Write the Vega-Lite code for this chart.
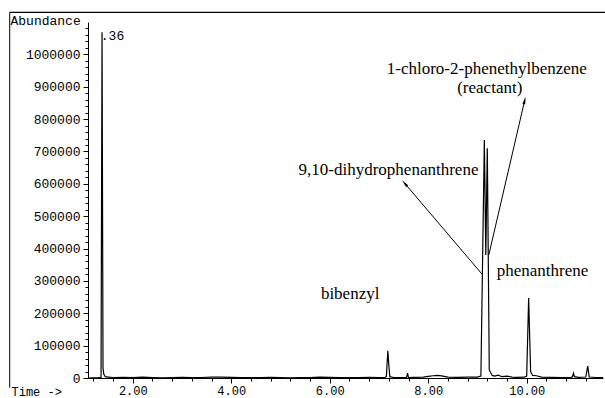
{
  "$schema": "https://vega.github.io/schema/vega-lite/v6.json",
  "width": 515,
  "height": 356,
  "autosize": {"type": "none"},
  "padding": {"left": 88, "top": 22, "right": 2, "bottom": 20},
  "background": "white",
  "config": {"view": {"stroke": null}, "font": "Liberation Mono"},
  "datasets": {
    "trace": [
      {"time": 1.09, "abundance": 0},
      {"time": 1.2, "abundance": 500},
      {"time": 1.3, "abundance": 1000},
      {"time": 1.355, "abundance": 2000},
      {"time": 1.375, "abundance": 1068000},
      {"time": 1.395, "abundance": 30000},
      {"time": 1.41, "abundance": 12000},
      {"time": 1.44, "abundance": 4000},
      {"time": 1.5, "abundance": 3000},
      {"time": 1.6, "abundance": 1500},
      {"time": 1.8, "abundance": 2000},
      {"time": 2.0, "abundance": 1000},
      {"time": 2.2, "abundance": 2500},
      {"time": 2.4, "abundance": 1500},
      {"time": 2.6, "abundance": 800},
      {"time": 2.8, "abundance": 1200},
      {"time": 3.0, "abundance": 2000},
      {"time": 3.2, "abundance": 1000},
      {"time": 3.4, "abundance": 1500},
      {"time": 3.6, "abundance": 2500},
      {"time": 3.8, "abundance": 3000},
      {"time": 4.0, "abundance": 2000},
      {"time": 4.2, "abundance": 1500},
      {"time": 4.4, "abundance": 1000},
      {"time": 4.6, "abundance": 1200},
      {"time": 4.8, "abundance": 2000},
      {"time": 5.0, "abundance": 1500},
      {"time": 5.2, "abundance": 800},
      {"time": 5.4, "abundance": 1000},
      {"time": 5.6, "abundance": 1500},
      {"time": 5.8, "abundance": 2500},
      {"time": 6.0, "abundance": 2000},
      {"time": 6.2, "abundance": 1200},
      {"time": 6.4, "abundance": 1000},
      {"time": 6.6, "abundance": 1500},
      {"time": 6.8, "abundance": 1800},
      {"time": 7.0, "abundance": 1200},
      {"time": 7.12, "abundance": 1000},
      {"time": 7.15, "abundance": 5000},
      {"time": 7.18, "abundance": 84000},
      {"time": 7.2, "abundance": 40000},
      {"time": 7.22, "abundance": 4000},
      {"time": 7.3, "abundance": 1500},
      {"time": 7.5, "abundance": 1000},
      {"time": 7.56, "abundance": 1500},
      {"time": 7.58, "abundance": 15000},
      {"time": 7.6, "abundance": 1500},
      {"time": 7.7, "abundance": 2000},
      {"time": 7.9, "abundance": 3000},
      {"time": 8.0, "abundance": 5000},
      {"time": 8.1, "abundance": 7000},
      {"time": 8.2, "abundance": 8000},
      {"time": 8.3, "abundance": 6000},
      {"time": 8.4, "abundance": 3000},
      {"time": 8.6, "abundance": 2000},
      {"time": 8.8, "abundance": 2500},
      {"time": 9.0, "abundance": 3000},
      {"time": 9.07, "abundance": 6000},
      {"time": 9.14, "abundance": 735000},
      {"time": 9.17, "abundance": 380000},
      {"time": 9.2, "abundance": 710000},
      {"time": 9.24, "abundance": 25000},
      {"time": 9.3, "abundance": 8000},
      {"time": 9.35, "abundance": 6000},
      {"time": 9.42, "abundance": 9000},
      {"time": 9.5, "abundance": 4000},
      {"time": 9.6, "abundance": 6000},
      {"time": 9.7, "abundance": 3000},
      {"time": 9.8, "abundance": 2000},
      {"time": 9.95, "abundance": 2500},
      {"time": 10.0, "abundance": 6000},
      {"time": 10.04, "abundance": 247000},
      {"time": 10.08, "abundance": 20000},
      {"time": 10.12, "abundance": 8000},
      {"time": 10.2, "abundance": 7000},
      {"time": 10.3, "abundance": 3000},
      {"time": 10.5, "abundance": 2000},
      {"time": 10.7, "abundance": 1500},
      {"time": 10.9, "abundance": 2000},
      {"time": 10.93, "abundance": 4000},
      {"time": 10.95, "abundance": 15000},
      {"time": 10.97, "abundance": 4000},
      {"time": 11.05, "abundance": 2000},
      {"time": 11.2, "abundance": 3000},
      {"time": 11.24, "abundance": 37000},
      {"time": 11.27, "abundance": 3000},
      {"time": 11.4, "abundance": 1500},
      {"time": 11.55, "abundance": 1000}
    ],
    "labels": [
      {"label": ".36", "time": 1.35, "abundance": 1043000, "pos": "left", "font": "mono"},
      {"label": "1-chloro-2-phenethylbenzene", "time": 9.19, "abundance": 938000, "pos": "center", "font": "serif"},
      {"label": "(reactant)", "time": 9.25, "abundance": 880000, "pos": "center", "font": "serif"},
      {"label": "9,10-dihydrophenanthrene", "time": 9.02, "abundance": 626000, "pos": "right", "font": "serif"},
      {"label": "phenanthrene", "time": 9.39, "abundance": 315000, "pos": "left", "font": "serif"},
      {"label": "bibenzyl", "time": 5.82, "abundance": 244000, "pos": "left", "font": "serif"}
    ],
    "arrows": [
      {"arrow": "dihydro", "t1": 9.11, "a1": 318000, "t2": 7.52, "a2": 602000},
      {"arrow": "reactant", "t1": 9.23, "a1": 380000, "t2": 9.96, "a2": 858000}
    ]
  },
  "resolve": {"axis": {"x": "independent", "y": "independent"}},
  "layer": [
    {
      "data": {"name": "trace"},
      "mark": {"type": "line", "color": "black", "strokeWidth": 1.2, "interpolate": "linear"},
      "encoding": {
        "x": {
          "field": "time", "type": "quantitative",
          "scale": {"domain": [1.09, 11.55], "zero": false, "nice": false},
          "axis": {
            "orient": "bottom",
            "values": [2, 4, 6, 8, 10], "format": ".2f",
            "labelFont": "Liberation Mono", "labelFontSize": 12, "labelColor": "black",
            "tickSize": 5, "tickColor": "black", "domainColor": "black", "grid": false,
            "labelPadding": 2,
            "title": "Time ->", "titleFont": "Liberation Mono", "titleFontSize": 12,
            "titleFontWeight": "normal", "titleColor": "black",
            "titleAnchor": "start", "titleAlign": "left", "titleBaseline": "middle",
            "titleX": -77, "titleY": 13
          }
        },
        "y": {
          "field": "abundance", "type": "quantitative",
          "scale": {"domain": [0, 1100000], "nice": false},
          "axis": {
            "orient": "left",
            "values": [0, 100000, 200000, 300000, 400000, 500000, 600000, 700000, 800000, 900000, 1000000],
            "format": "d",
            "labelFont": "Liberation Mono", "labelFontSize": 13, "labelColor": "black",
            "tickSize": 5, "tickColor": "black", "domainColor": "black", "grid": false,
            "labelPadding": 3,
            "title": "Abundance", "titleFont": "Liberation Mono", "titleFontSize": 13,
            "titleFontWeight": "normal", "titleColor": "black", "titleAngle": 0,
            "titleAlign": "left", "titleBaseline": "middle",
            "titleX": -78, "titleY": -2
          }
        }
      }
    },
    {
      "data": {"name": "trace"},
      "mark": {"type": "point", "opacity": 0},
      "encoding": {
        "x": {
          "field": "time", "type": "quantitative",
          "axis": {
            "orient": "bottom",
            "values": [1.2, 1.6, 2.4, 2.8, 3.2, 3.6, 4.4, 4.8, 5.2, 5.6, 6.4, 6.8, 7.2, 7.6, 8.4, 8.8, 9.2, 9.6, 10.4, 10.8, 11.2],
            "labels": false, "tickSize": 3, "tickColor": "black", "domain": false, "grid": false, "title": null
          }
        },
        "y": {
          "field": "abundance", "type": "quantitative",
          "axis": {
            "orient": "left",
            "values": [20000, 40000, 60000, 80000, 120000, 140000, 160000, 180000, 220000, 240000, 260000, 280000, 320000, 340000, 360000, 380000, 420000, 440000, 460000, 480000, 520000, 540000, 560000, 580000, 620000, 640000, 660000, 680000, 720000, 740000, 760000, 780000, 820000, 840000, 860000, 880000, 920000, 940000, 960000, 980000, 1020000, 1040000, 1060000, 1080000],
            "labels": false, "tickSize": 3, "tickColor": "black", "domain": false, "grid": false, "title": null
          }
        }
      }
    },
    {
      "data": {"name": "arrows"},
      "mark": {"type": "rule", "color": "black", "strokeWidth": 1},
      "encoding": {
        "x": {"field": "t1", "type": "quantitative", "axis": null},
        "y": {"field": "a1", "type": "quantitative", "axis": null},
        "x2": {"field": "t2"},
        "y2": {"field": "a2"}
      }
    },
    {
      "data": {"name": "arrows"},
      "transform": [{"filter": "datum.arrow === 'dihydro'"}],
      "mark": {"type": "point", "shape": "M0,-1L0.35,1L-0.35,1Z", "filled": true, "color": "black", "opacity": 1, "size": 60, "angle": 320},
      "encoding": {
        "x": {"field": "t2", "type": "quantitative", "axis": null},
        "y": {"field": "a2", "type": "quantitative", "axis": null}
      }
    },
    {
      "data": {"name": "arrows"},
      "transform": [{"filter": "datum.arrow === 'reactant'"}],
      "mark": {"type": "point", "shape": "M0,-1L0.35,1L-0.35,1Z", "filled": true, "color": "black", "opacity": 1, "size": 60, "angle": 13},
      "encoding": {
        "x": {"field": "t2", "type": "quantitative", "axis": null},
        "y": {"field": "a2", "type": "quantitative", "axis": null}
      }
    },
    {
      "data": {"name": "labels"},
      "transform": [{"filter": "datum.font === 'serif' && datum.pos === 'left'"}],
      "mark": {"type": "text", "align": "left", "baseline": "alphabetic", "font": "Liberation Serif", "fontSize": 17, "color": "black"},
      "encoding": {
        "x": {"field": "time", "type": "quantitative", "axis": null},
        "y": {"field": "abundance", "type": "quantitative", "axis": null},
        "text": {"field": "label"}
      }
    },
    {
      "data": {"name": "labels"},
      "transform": [{"filter": "datum.font === 'serif' && datum.pos === 'center'"}],
      "mark": {"type": "text", "align": "center", "baseline": "alphabetic", "font": "Liberation Serif", "fontSize": 17, "color": "black"},
      "encoding": {
        "x": {"field": "time", "type": "quantitative", "axis": null},
        "y": {"field": "abundance", "type": "quantitative", "axis": null},
        "text": {"field": "label"}
      }
    },
    {
      "data": {"name": "labels"},
      "transform": [{"filter": "datum.font === 'serif' && datum.pos === 'right'"}],
      "mark": {"type": "text", "align": "right", "baseline": "alphabetic", "font": "Liberation Serif", "fontSize": 17, "color": "black"},
      "encoding": {
        "x": {"field": "time", "type": "quantitative", "axis": null},
        "y": {"field": "abundance", "type": "quantitative", "axis": null},
        "text": {"field": "label"}
      }
    },
    {
      "data": {"name": "labels"},
      "transform": [{"filter": "datum.font === 'mono'"}],
      "mark": {"type": "text", "align": "left", "baseline": "alphabetic", "font": "Liberation Mono", "fontSize": 13, "color": "black"},
      "encoding": {
        "x": {"field": "time", "type": "quantitative", "axis": null},
        "y": {"field": "abundance", "type": "quantitative", "axis": null},
        "text": {"field": "label"}
      }
    },
    {
      "data": {"values": [{"side": "top"}]},
      "mark": {"type": "rule", "color": "black", "strokeWidth": 1.2, "clip": false},
      "encoding": {
        "x": {"datum": -0.5, "type": "quantitative", "axis": null},
        "x2": {"datum": 11.6},
        "y": {"datum": 1130000, "type": "quantitative", "axis": null}
      }
    },
    {
      "data": {"values": [{"side": "left"}]},
      "mark": {"type": "rule", "color": "black", "strokeWidth": 1, "clip": false},
      "encoding": {
        "x": {"datum": -0.5, "type": "quantitative", "axis": null},
        "y": {"datum": 1130000, "type": "quantitative", "axis": null},
        "y2": {"datum": -30000}
      }
    }
  ]
}
